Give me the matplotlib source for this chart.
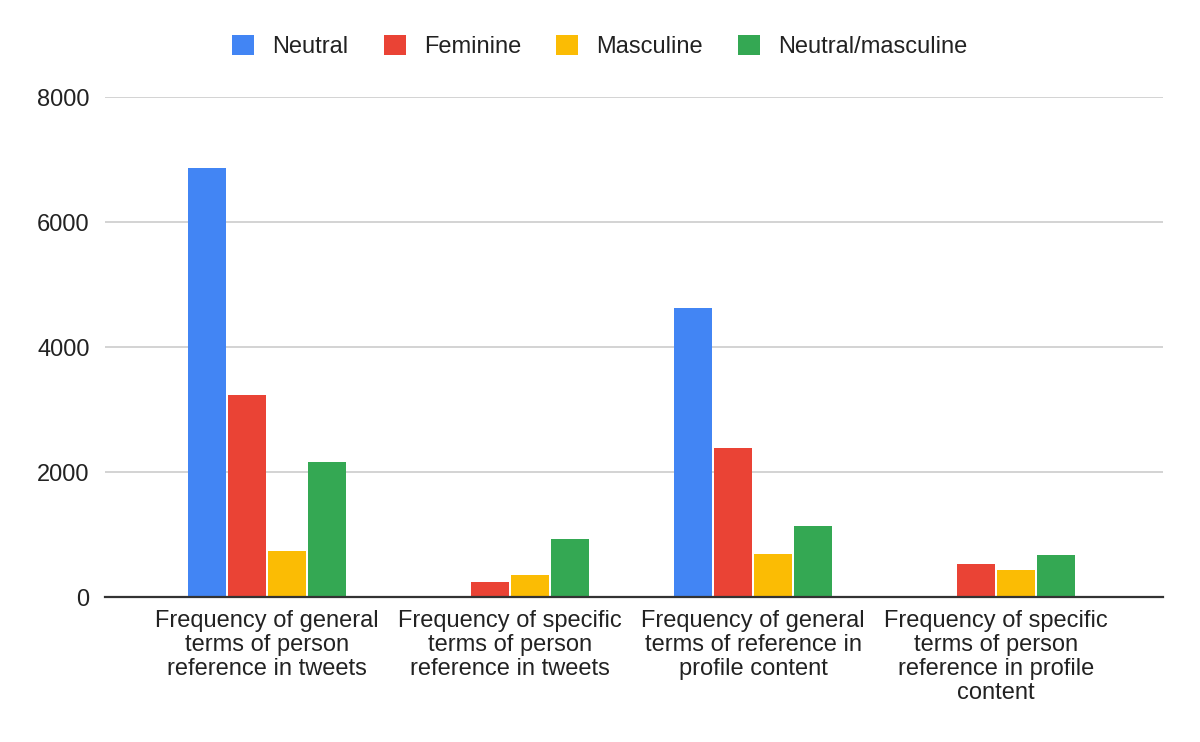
import matplotlib.pyplot as plt
import numpy as np

plt.rcParams['font.family'] = ['Liberation Sans', 'DejaVu Sans']

categories = [
    "Frequency of general\nterms of person\nreference in tweets",
    "Frequency of specific\nterms of person\nreference in tweets",
    "Frequency of general\nterms of reference in\nprofile content",
    "Frequency of specific\nterms of person\nreference in profile\ncontent",
]
series_names = ["Neutral", "Feminine", "Masculine", "Neutral/masculine"]
neutral = [6860, 0, 4630, 0]
feminine = [3240, 235, 2390, 525]
masculine = [730, 360, 690, 425]
neutral_masc = [2160, 935, 1140, 680]
colors = ["#4285F4", "#EA4335", "#FBBC04", "#34A853"]

fig = plt.figure(figsize=(12, 7.42), dpi=100)
ax = fig.add_subplot(111)
fig.subplots_adjust(left=0.0875, right=0.969, top=0.869, bottom=0.1954)

x = np.arange(len(categories))
pitch = 0.164
width = 0.156
data = [neutral, feminine, masculine, neutral_masc]
for i, (vals, name, c) in enumerate(zip(data, series_names, colors)):
    ax.bar(x + (i - 1.5) * pitch, vals, width, color=c, label=name, zorder=3)

ax.set_xlim(-0.666, 3.685)
ax.set_ylim(0, 8000)
ax.set_yticks([0, 2000, 4000, 6000, 8000])
ax.set_xticks(x)
ax.set_xticklabels(categories, fontsize=17, color="#222222", linespacing=1.12)
ax.tick_params(axis="y", length=0, pad=11, labelsize=17, labelcolor="#222222")
ax.tick_params(axis="x", length=0, pad=9)
ax.grid(axis="y", color="#cccccc", linewidth=1.2, zorder=0)
for s in ["top", "right", "left"]:
    ax.spines[s].set_visible(False)
ax.spines["bottom"].set_color("#333333")
ax.spines["bottom"].set_linewidth(1.6)
ax.spines["bottom"].set_zorder(4)

fig.legend(loc="center", bbox_to_anchor=(0.5, 0.937), ncol=4, frameon=False,
           fontsize=17, handlelength=0.93, handleheight=0.93, handletextpad=0.76,
           columnspacing=1.5, labelcolor="#222222")

plt.savefig("out.png", dpi=100)
